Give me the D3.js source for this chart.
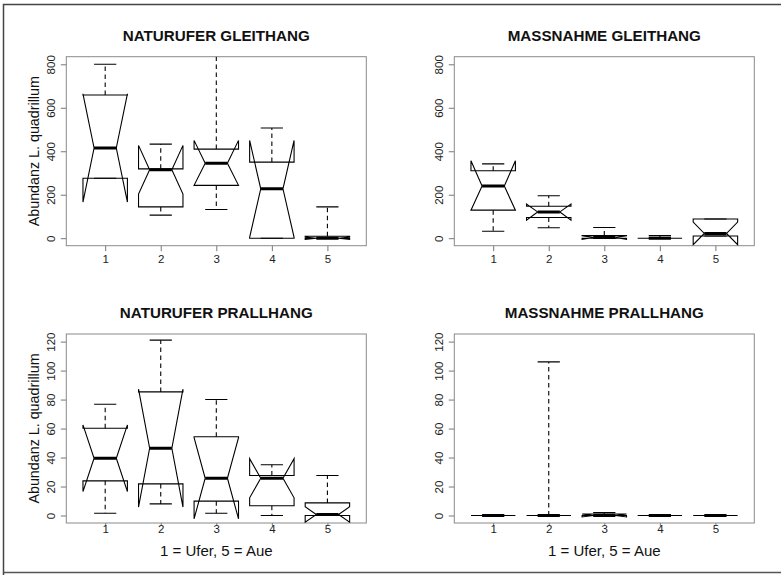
<!DOCTYPE html>
<html>
<head>
<meta charset="utf-8">
<script src="https://cdnjs.cloudflare.com/ajax/libs/d3/7.8.5/d3.min.js"></script>
<style>
  body { margin: 0; background: #fff; }
  svg { display: block; font-family: 'Liberation Sans', Arial, sans-serif; }
</style>
</head>
<body>
<div id="chart"></div>
<script>
var width = 781,
  height = 575;

var groups = [1, 2, 3, 4, 5];
var titles = ['NATURUFER GLEITHANG', 'MASSNAHME GLEITHANG', 'NATURUFER PRALLHANG', 'MASSNAHME PRALLHANG'];
var yTicksGleithang = [0, 200, 400, 600, 800];
var yTicksPrallhang = [0, 20, 40, 60, 80, 100, 120];
var yLabel = 'Abundanz L. quadrillum';
var xLabel = '1 = Ufer, 5 = Aue';

// one row per box: lower whisker, Q1, median, Q3, upper whisker, notch low, notch high
var naturuferGleithang = [
  [276, 276, 415, 659, 800, 166, 664],
  [106, 144, 315, 319, 433, 203, 427],
  [132, 243, 345, 410, 950, 243, 450],
  [0, 0, 227, 350, 507, 4, 450],
  [0, 0, 0, 9, 144, -5, 5]
];
var massnahmeGleithang = [
  [32, 129, 240, 310, 342, 129, 356],
  [48, 95, 121, 147, 195, 83, 157],
  [0, 0, 3, 12, 49, -5, 11],
  [0, 0, 0, 0, 12, 0, 0],
  [10, 10, 22, 88, 88, -30, 74]
];
var naturuferPrallhang = [
  [1.6, 23.9, 39.5, 60.2, 76.8, 16.5, 62.5],
  [8, 21.8, 46.4, 85.3, 121, 5.8, 87.2],
  [1.6, 9.9, 25.7, 54.3, 80, -2.3, 53.7],
  [0, 6.7, 25.7, 27.6, 35, 12.2, 39.2],
  [0, 0, 0.7, 8.7, 27.6, -4.6, 6]
];
var massnahmePrallhang = [
  [0, 0, 0, 0, 0, 0, 0],
  [0, 0, 0, 0, 106, 0, 0],
  [0, 0, 0, 1, 2, -1, 1],
  [0, 0, 0, 0, 0, 0, 0],
  [0, 0, 0, 0, 0, 0, 0]
];

var panels = [
  { data: naturuferGleithang, ticks: yTicksGleithang, ox: 66.3, oy: 56.7, left: true, bottom: false },
  { data: massnahmeGleithang, ticks: yTicksGleithang, ox: 454.3, oy: 56.7, left: false, bottom: false },
  { data: naturuferPrallhang, ticks: yTicksPrallhang, ox: 66.3, oy: 334, left: true, bottom: true },
  { data: massnahmePrallhang, ticks: yTicksPrallhang, ox: 454.3, oy: 334, left: false, bottom: true }
];

var plotW = 300,
  plotH = 189;

var svg = d3
  .select('#chart')
  .append('svg')
  .attr('width', width)
  .attr('height', height);

svg.append('rect').attr('width', width).attr('height', height).attr('fill', '#fff');

// outer frame of the picture
svg
  .append('path')
  .attr('d', 'M3.5,' + (height + 2) + 'V4.5H' + (width + 2))
  .attr('fill', 'none')
  .attr('stroke', '#444')
  .attr('stroke-width', 1.5);
svg
  .append('line')
  .attr('x1', 3.5).attr('x2', width)
  .attr('y1', 572.5).attr('y2', 572.5)
  .attr('stroke', '#555')
  .attr('stroke-width', 1.5);

var line = d3.line();

panels.forEach(function (p, pi) {
  var g = svg.append('g');

  var x = d3.scaleLinear().domain([0.3, 5.7]).range([p.ox, p.ox + plotW]);
  var y = d3
    .scaleLinear()
    .domain([0, p.ticks[p.ticks.length - 1]])
    .range([p.oy + 181.5, p.oy + 7.6]);

  var clipId = 'clip' + pi;
  g.append('clipPath')
    .attr('id', clipId)
    .append('rect')
    .attr('x', p.ox)
    .attr('y', p.oy)
    .attr('width', plotW)
    .attr('height', plotH);

  // title
  g.append('text')
    .attr('x', p.ox + plotW / 2)
    .attr('y', p.oy - 15.7)
    .attr('text-anchor', 'middle')
    .attr('font-weight', 'bold')
    .attr('font-size', '15.2px')
    .attr('fill', '#111')
    .text(titles[pi]);

  // y axis with rotated labels
  var yAxis = d3.axisLeft(y).tickValues(p.ticks).tickSize(5.5).tickSizeOuter(0).tickFormat(d3.format('d'));
  var ya = g.append('g').attr('transform', 'translate(' + p.ox + ',0)').call(yAxis);
  ya.select('.domain').remove();
  ya.selectAll('line').attr('stroke', '#777');
  ya.selectAll('text')
    .attr('x', null)
    .attr('dy', null)
    .attr('text-anchor', 'middle')
    .attr('transform', 'translate(-11,0) rotate(-90)')
    .attr('font-size', '11.5px')
    .attr('font-family', "'Liberation Sans', Arial, sans-serif")
    .attr('fill', '#222');

  // x axis
  var tickLen = p.bottom ? 3 : 5.5;
  var xAxis = d3.axisBottom(x).tickValues(groups).tickSize(tickLen).tickSizeOuter(0).tickFormat(d3.format('d'));
  var xa = g.append('g').attr('transform', 'translate(0,' + (p.oy + plotH) + ')').call(xAxis);
  xa.select('.domain').remove();
  xa.selectAll('line').attr('stroke', '#777');
  xa.selectAll('text')
    .attr('y', p.bottom ? 10 : 17.3)
    .attr('dy', null)
    .attr('font-size', '11.5px')
    .attr('font-family', "'Liberation Sans', Arial, sans-serif")
    .attr('fill', '#222');

  // plot frame
  g.append('rect')
    .attr('x', p.ox)
    .attr('y', p.oy)
    .attr('width', plotW)
    .attr('height', plotH)
    .attr('fill', 'none')
    .attr('stroke', '#8a8a8a')
    .attr('stroke-width', 1);

  if (p.left) {
    g.append('text')
      .attr('transform', 'translate(38.5,' + (p.oy + plotH / 2) + ') rotate(-90)')
      .attr('text-anchor', 'middle')
      .attr('font-size', '14.3px')
      .attr('fill', '#111')
      .text(yLabel);
  }
  if (p.bottom) {
    g.append('text')
      .attr('x', p.ox + plotW / 2)
      .attr('y', 555.5)
      .attr('text-anchor', 'middle')
      .attr('font-size', '15px')
      .attr('fill', '#111')
      .text(xLabel);
  }

  var boxes = g.append('g').attr('clip-path', 'url(#' + clipId + ')');
  var w = x(1.4) - x(1);

  p.data.forEach(function (s, i) {
    var cx = x(groups[i]);
    var lo = y(s[0]), q1 = y(s[1]), med = y(s[2]), q3 = y(s[3]), hi = y(s[4]);
    var nlo = y(s[5]), nhi = y(s[6]);

    // whiskers
    boxes.append('path')
      .attr('d', line([[cx, q3], [cx, hi]]) + line([[cx, q1], [cx, lo]]))
      .attr('stroke', '#000')
      .attr('stroke-width', 1.1)
      .attr('stroke-dasharray', '4.5,3.5')
      .attr('fill', 'none');
    // staples
    boxes.append('path')
      .attr('d', line([[cx - w / 2, hi], [cx + w / 2, hi]]) + line([[cx - w / 2, lo], [cx + w / 2, lo]]))
      .attr('stroke', '#000')
      .attr('stroke-width', 1.1)
      .attr('fill', 'none');
    // notched box
    boxes.append('path')
      .attr('d', line([
        [cx - w, q1], [cx + w, q1], [cx + w, nlo], [cx + w / 2, med], [cx + w, nhi],
        [cx + w, q3], [cx - w, q3], [cx - w, nhi], [cx - w / 2, med], [cx - w, nlo]
      ]) + 'Z')
      .attr('stroke', '#000')
      .attr('stroke-width', 1.1)
      .attr('stroke-linejoin', 'miter')
      .attr('fill', 'none');
    // median
    boxes.append('line')
      .attr('x1', cx - w / 2)
      .attr('x2', cx + w / 2)
      .attr('y1', med)
      .attr('y2', med)
      .attr('stroke', '#000')
      .attr('stroke-width', 3);
  });
});
</script>
</body>
</html>
